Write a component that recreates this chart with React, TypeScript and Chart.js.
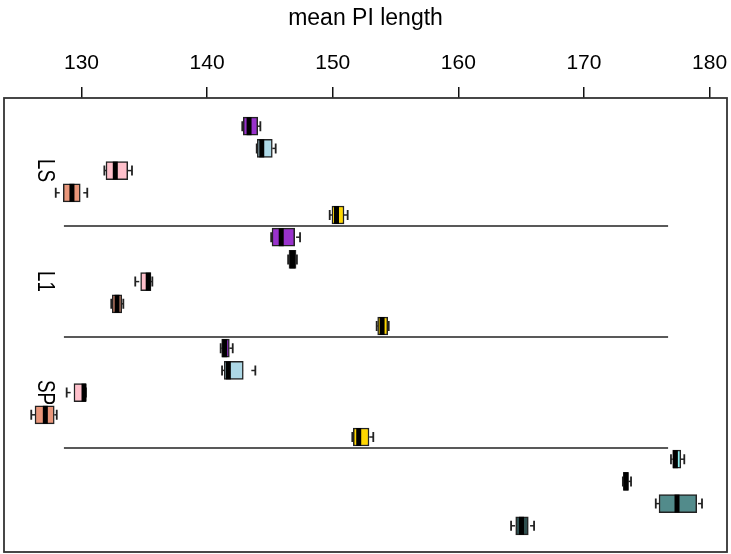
import React, { useEffect, useRef } from 'react';
import { Chart, registerables } from 'chart.js';

Chart.register(...registerables);

// ---- data ----
const rowIndex = [0, 1, 2, 3, 4, 5, 6, 7, 8, 9, 10, 11, 12, 13, 14, 15, 16, 17, 18];
const whiskerLow = [142.80, 143.95, 131.82, 127.95, 149.76, 145.10, 146.45, 134.28, 132.37, 153.50, 141.08, 141.19, 128.82, 126.00, 151.56, 176.93, 173.10, 175.72, 164.20];
const quartile1 = [142.88, 144.00, 131.95, 128.55, 149.94, 145.17, 146.52, 134.71, 132.45, 153.58, 141.16, 141.37, 129.40, 126.30, 151.64, 177.07, 173.14, 175.98, 164.57];
const medians = [143.34, 144.35, 132.69, 129.24, 150.30, 145.90, 146.80, 135.31, 132.83, 153.93, 141.40, 141.69, 130.20, 127.12, 152.07, 177.28, 173.35, 177.41, 165.03];
const quartile3 = [144.03, 145.19, 133.68, 129.90, 150.90, 146.97, 147.08, 135.53, 133.20, 154.38, 141.77, 142.88, 130.33, 127.83, 152.89, 177.71, 173.54, 178.98, 165.57];
const whiskerHigh = [144.24, 145.46, 134.02, 130.46, 151.19, 147.40, 147.15, 135.64, 133.33, 154.46, 142.04, 143.84, 130.35, 128.03, 153.23, 177.99, 173.75, 179.40, 166.03];
const boxColors = [
  '#9932CC', '#ADD8E6', '#FFC0CB', '#E9967A', '#FFD700',
  '#9932CC', '#ADD8E6', '#FFC0CB', '#E9967A', '#FFD700',
  '#9932CC', '#ADD8E6', '#FFC0CB', '#E9967A', '#FFD700',
  '#8DEEEE', '#2F4F4F', '#528B8B', '#2F4F4F',
];
const groupLabels = ['LS', 'L1', 'SP'];
const groupLabelRows = [2, 7, 12];
const groupLabelX = 127.07;
const separatorRows = [4.5, 9.5, 14.5];
const separatorFrom = 128.6;
const separatorTo = 176.7;
const xTicks = [130, 140, 150, 160, 170, 180];
const xMin = 123.83;
const xMax = 181.39;
const yMin = -1.27;
const yMax = 19.18;
const axisTitle = 'mean PI length';

const FONT = "'Liberation Sans', Arial, Helvetica, sans-serif";

const boxExtras = {
  id: 'boxExtras',
  afterDatasetsDraw(chart: any) {
    const { ctx, chartArea, scales } = chart;
    const x = scales.x;
    const y = scales.y;
    ctx.save();

    // separators
    ctx.strokeStyle = '#222';
    ctx.lineWidth = 1.5;
    separatorRows.forEach((r) => {
      const py = y.getPixelForValue(r);
      ctx.beginPath();
      ctx.moveTo(x.getPixelForValue(separatorFrom), py);
      ctx.lineTo(x.getPixelForValue(separatorTo), py);
      ctx.stroke();
    });

    const half = 9;
    rowIndex.forEach((r, i) => {
      const cy = y.getPixelForValue(r);
      const pl = x.getPixelForValue(whiskerLow[i]);
      const p1 = x.getPixelForValue(quartile1[i]);
      const pm = x.getPixelForValue(medians[i]);
      const p3 = x.getPixelForValue(quartile3[i]);
      const ph = x.getPixelForValue(whiskerHigh[i]);

      // dashed whiskers, drawn from the whisker end toward the box
      ctx.strokeStyle = '#222';
      ctx.lineWidth = 1.5;
      ctx.setLineDash([4, 8]);
      ctx.beginPath();
      ctx.moveTo(pl, cy);
      ctx.lineTo(p1, cy);
      ctx.stroke();
      ctx.beginPath();
      ctx.moveTo(ph, cy);
      ctx.lineTo(p3, cy);
      ctx.stroke();

      // staples
      ctx.setLineDash([]);
      ctx.lineWidth = 1.8;
      ctx.beginPath();
      ctx.moveTo(pl, cy - 5);
      ctx.lineTo(pl, cy + 5);
      ctx.moveTo(ph, cy - 5);
      ctx.lineTo(ph, cy + 5);
      ctx.stroke();

      // median
      ctx.strokeStyle = '#000';
      ctx.lineWidth = 5;
      ctx.beginPath();
      ctx.moveTo(pm, cy - half);
      ctx.lineTo(pm, cy + half);
      ctx.stroke();
    });

    // group labels (rotated)
    ctx.fillStyle = '#000';
    ctx.font = `23px ${FONT}`;
    ctx.textAlign = 'center';
    ctx.textBaseline = 'middle';
    groupLabels.forEach((lab, i) => {
      const px = x.getPixelForValue(groupLabelX);
      const py = y.getPixelForValue(groupLabelRows[i]);
      ctx.save();
      ctx.translate(px, py);
      ctx.rotate(Math.PI / 2);
      ctx.scale(0.82, 1);
      ctx.fillText(lab, 0, 0);
      ctx.restore();
    });

    // frame
    ctx.strokeStyle = '#333';
    ctx.lineWidth = 1.8;
    ctx.strokeRect(chartArea.left, chartArea.top, chartArea.right - chartArea.left, chartArea.bottom - chartArea.top);

    ctx.restore();
  },
};

export default function App() {
  const canvasRef = useRef<HTMLCanvasElement | null>(null);

  useEffect(() => {
    const canvas = canvasRef.current;
    if (!canvas) return;
    const data = rowIndex.map((r, i) => ({ x: [quartile1[i], quartile3[i]], y: r }));
    const chart = new Chart(canvas, {
      type: 'bar',
      data: {
        datasets: [
          {
            data: data as any,
            backgroundColor: boxColors,
            borderColor: '#222',
            borderWidth: 1.5,
            borderSkipped: false,
            barThickness: 18,
          } as any,
        ],
      },
      plugins: [boxExtras],
      options: {
        indexAxis: 'y',
        animation: false,
        responsive: false,
        devicePixelRatio: 1,
        events: [],
        layout: { padding: { left: 4, right: 4, top: 0, bottom: 2 } },
        plugins: {
          legend: { display: false },
          tooltip: { enabled: false },
          title: { display: false },
        },
        scales: {
          x: {
            type: 'linear',
            position: 'top',
            min: xMin,
            max: xMax,
            afterBuildTicks: (s: any) => {
              s.ticks = xTicks.map((v) => ({ value: v }));
            },
            afterFit: (s: any) => {
              s.height = 98;
              s.paddingLeft = 0;
              s.paddingRight = 0;
            },
            ticks: {
              font: { family: FONT, size: 21 },
              color: '#000',
              padding: 11,
              maxRotation: 0,
              autoSkip: false,
            },
            grid: {
              drawOnChartArea: false,
              drawTicks: true,
              tickLength: 11,
              color: '#111',
              lineWidth: 1.5,
            },
            border: { display: false },
            title: {
              display: true,
              text: axisTitle,
              font: { family: FONT, size: 23 },
              color: '#000',
              padding: { top: 5, bottom: 0 },
            },
          },
          y: {
            type: 'linear',
            display: false,
            reverse: true,
            min: yMin,
            max: yMax,
            offset: false,
          },
        },
      } as any,
    });
    return () => chart.destroy();
  }, []);

  return (
    <div style={{ position: 'absolute', left: 0, top: 0, width: 731, height: 554 }}>
      <canvas ref={canvasRef} width={731} height={554} style={{ display: 'block' }} />
    </div>
  );
}
